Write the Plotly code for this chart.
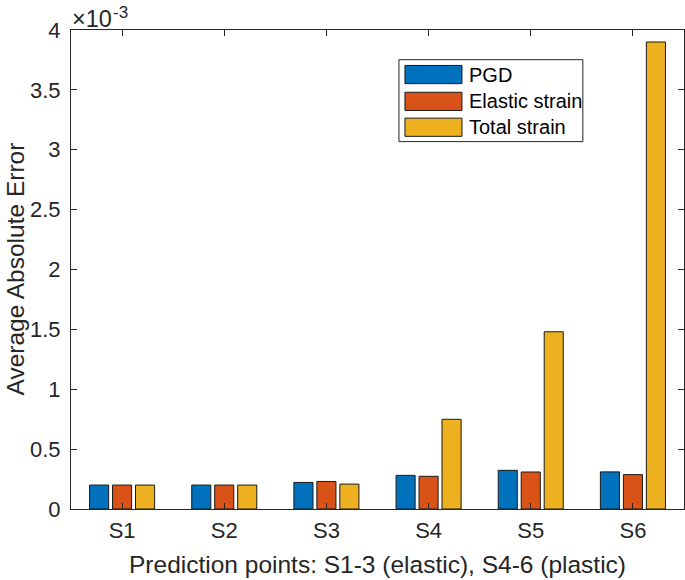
import plotly.graph_objects as go

categories = ["S1", "S2", "S3", "S4", "S5", "S6"]
series_names = ["PGD", "Elastic strain", "Total strain"]
pgd = [0.000200, 0.000200, 0.000222, 0.000281, 0.000323, 0.000310]
elastic = [0.000200, 0.000200, 0.000230, 0.000273, 0.000309, 0.000287]
total = [0.000200, 0.000200, 0.000208, 0.000749, 0.001480, 0.003900]
ytick_vals = [0, 0.0005, 0.001, 0.0015, 0.002, 0.0025, 0.003, 0.0035, 0.004]
ytick_text = ["0", "0.5", "1", "1.5", "2", "2.5", "3", "3.5", "4"]

colors = ["#0072BD", "#D95319", "#EDB120"]
FONT = "Liberation Sans, Arial, Helvetica, sans-serif"
AX = "#262626"

fig = go.Figure()
for name, vals, col in zip(series_names, [pgd, elastic, total], colors):
    fig.add_trace(go.Bar(
        x=categories, y=vals, name=name,
        marker=dict(color=col, line=dict(color="#1a1a1a", width=1)),
        showlegend=False,
    ))

fig.update_layout(
    width=685, height=580,
    margin=dict(l=71, r=1, t=29.5, b=71.3, autoexpand=False),
    paper_bgcolor="white", plot_bgcolor="white",
    barmode="group", bargap=0.325, bargroupgap=0.17,
    font=dict(family=FONT, color=AX, size=22),
    xaxis=dict(
        range=[-0.5, 5.5], showline=True, linecolor=AX, linewidth=1, mirror="allticks",
        ticks="inside", ticklen=6, tickcolor=AX, showgrid=False, zeroline=False,
        tickfont=dict(size=22, color=AX), ticklabelstandoff=2,
        title=dict(text="Prediction points: S1-3 (elastic), S4-6 (plastic)",
                   font=dict(size=24.5, color=AX), standoff=13),
    ),
    yaxis=dict(
        range=[0, 0.004], showline=True, linecolor=AX, linewidth=1, mirror="allticks",
        ticks="inside", ticklen=6, tickcolor=AX, showgrid=False, zeroline=False,
        tickvals=ytick_vals, ticktext=ytick_text,
        tickfont=dict(size=22, color=AX), ticklabelstandoff=5,
    ),
)

# y-axis title placed as a rotated text for precise positioning
fig.add_annotation(
    x=0.0, y=0.5, xref="paper", yref="paper", xanchor="center", yanchor="middle",
    text="Average Absolute Error", textangle=-90, showarrow=False,
    font=dict(size=24.5, color=AX), xshift=-56, borderpad=0,
)

# exponent label: base and superscript as separate texts
fig.add_annotation(
    x=0.0, y=1.0, xref="paper", yref="paper", xanchor="left", yanchor="top",
    text="×10", showarrow=False, font=dict(size=23.5, color=AX),
    xshift=0, yshift=25, borderpad=0,
)
fig.add_annotation(
    x=0.0, y=1.0, xref="paper", yref="paper", xanchor="left", yanchor="top",
    text="-3", showarrow=False, font=dict(size=17, color=AX),
    xshift=41, yshift=28, borderpad=0,
)

# custom legend (MATLAB style)
lx0, lx1, ly0, ly1 = 0.535, 0.835, 0.767, 0.938
fig.add_shape(type="rect", xref="paper", yref="paper", x0=lx0, x1=lx1, y0=ly0, y1=ly1,
              line=dict(color=AX, width=1), fillcolor="white", layer="above")
row_y = [0.907, 0.851, 0.797]
for name, col, yc in zip(series_names, colors, row_y):
    fig.add_shape(type="rect", xref="paper", yref="paper",
                  x0=0.5448, x1=0.6378, y0=yc - 0.019, y1=yc + 0.019,
                  line=dict(color="#1a1a1a", width=1), fillcolor=col, layer="above")
    fig.add_annotation(x=0.6465, y=yc, xref="paper", yref="paper", xanchor="left",
                       yanchor="middle", text=name, showarrow=False,
                       font=dict(size=20, color="black"))

# remove the browser's default 8px page margin so the figure sits at the window origin
fig.write_html("out.html", config={"displayModeBar": False},
               post_script="document.body.style.margin='0';")
